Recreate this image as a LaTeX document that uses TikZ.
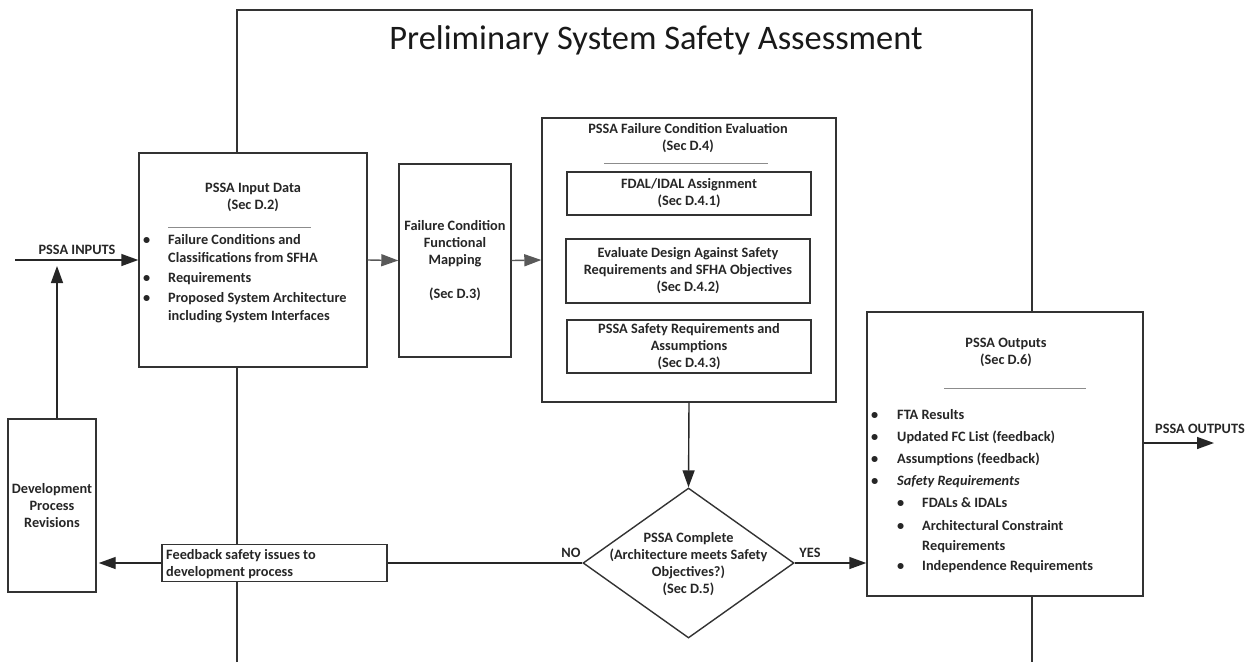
\documentclass[tikz,border=0pt]{standalone}
\usepackage{fontspec}
\setmainfont{Carlito}
\usetikzlibrary{shapes.geometric,arrows.meta}
\begin{document}
\begin{tikzpicture}[x=1pt,y=-1pt,
  txt/.style={font=\bfseries\fontsize{14.3}{17}\selectfont, text=black!85},
  box/.style={draw=black!80, line width=1.4pt, fill=white, inner sep=0pt},
  link/.style={line width=1.4pt, draw=black!85},
  conn/.style={link, -{Triangle[length=17pt,width=12pt]}},
  gconn/.style={conn, draw=black!65},
  sep/.style={draw=black!45, line width=1pt},
  frame/.style={draw=black!80, line width=1.4pt}]
\useasboundingbox (0,0) rectangle (1258,662);

% outer assessment frame, open at the bottom
\draw[frame] (237,662) -- (237,10) -- (1032,10) -- (1032,662);
\node[font=\fontsize{34.4}{40}\selectfont, text=black!90] (title) at (656,40) {Preliminary System Safety Assessment};

% PSSA input data
\node[box, minimum width=228pt, minimum height=214pt] (input) at (253,260) {};
\node[txt, align=center] (inputtitle) at (253,197) {PSSA Input Data\\(Sec D.2)};
\draw[sep] (168,227) -- (311,227);
\node[txt, anchor=west, inner sep=0pt] (inputlist) at (143,279) {%
  \fontsize{14.3}{18}\selectfont
  \begin{tabular}{@{}p{25pt}@{}l@{}}
  \textbullet & Failure Conditions and\\
   & Classifications from SFHA\\[2pt]
  \textbullet & Requirements\\[2pt]
  \textbullet & Proposed System Architecture\\
   & including System Interfaces
  \end{tabular}};

% functional mapping
\node[box, txt, align=center, minimum width=112pt, minimum height=193pt] (fcfm) at (455,260.5)
  {Failure Condition\\Functional\\Mapping\\[17pt](Sec D.3)};

% failure condition evaluation
\node[box, minimum width=294pt, minimum height=284pt] (eval) at (689,260) {};
\node[txt, align=center] (evaltitle) at (688,138.5) {PSSA Failure Condition Evaluation\\(Sec D.4)};
\draw[sep] (604,163) -- (768,163);
\node[box, txt, align=center, minimum width=244pt, minimum height=43pt] (fdal) at (689,193.5)
  {FDAL/IDAL Assignment\\(Sec D.4.1)};
\node[box, txt, align=center, minimum width=244pt, minimum height=64pt] (design) at (688,271)
  {Evaluate Design Against Safety\\Requirements and SFHA Objectives\\(Sec D.4.2)};
\node[box, txt, align=center, minimum width=244pt, minimum height=53pt] (safereq) at (689,346.5)
  {PSSA Safety Requirements and\\Assumptions\\(Sec D.4.3)};

% decision
\node[draw=black!80, line width=1.4pt, fill=white, diamond, inner sep=0pt,
  minimum width=211pt, minimum height=150pt] (dia) at (688.5,563) {};
\node[txt, align=center] (diatext) at (688.5,564)
  {PSSA Complete\\(Architecture meets Safety\\Objectives?)\\(Sec D.5)};

% outputs
\node[box, minimum width=276pt, minimum height=284pt] (outputs) at (1005,454) {};
\node[txt, align=center] (outtitle) at (1006,352.5) {\fontsize{14.3}{19}\selectfont PSSA Outputs\\(Sec D.6)};
\draw[sep] (944,388) -- (1086,388);
\node[txt, anchor=west, inner sep=0pt] (outlist) at (871,491) {%
  \fontsize{14.3}{20}\selectfont
  \begin{tabular}{@{}p{26pt}@{}p{25pt}@{}l@{}}
  \textbullet & \multicolumn{2}{@{}l@{}}{FTA Results}\\[2pt]
  \textbullet & \multicolumn{2}{@{}l@{}}{Updated FC List (feedback)}\\[2pt]
  \textbullet & \multicolumn{2}{@{}l@{}}{Assumptions (feedback)}\\[2pt]
  \textit{\textbullet} & \multicolumn{2}{@{}l@{}}{\textit{Safety Requirements}}\\[2pt]
   & \textbullet & FDALs \& IDALs\\[3pt]
   & \textbullet & Architectural Constraint\\
   & & Requirements\\
   & \textbullet & Independence Requirements
  \end{tabular}};

% development process side
\node[box, txt, align=center, minimum width=88pt, minimum height=173pt] (dev) at (52,505.5)
  {Development\\Process\\Revisions};
\node[box, minimum width=225pt, minimum height=37pt] (feedback) at (274.5,563) {};
\node[txt, anchor=west, align=left, inner sep=0pt] (feedtext) at (166,564.5)
  {Feedback safety issues to\\development process};

% connectors
\coordinate (inStart) at (15,260);
\coordinate (upTip) at (57,266);
\coordinate (outEnd) at (1214,443);
\draw[conn] (inStart) -- (input.west);
\node[txt] (inlabel) at (77,250) {PSSA INPUTS};
\draw[conn] (dev.north -| upTip) -- (upTip);
\draw[gconn] (input.east) -- (fcfm.west);
\draw[gconn] (fcfm.east) -- (eval.west);
\draw[conn] (eval.south) -- (dia.north);
\draw[link] (dia.west) -- (feedback.east);
\node[txt] (nolabel) at (571,553) {NO};
\draw[conn, shorten >=2pt] (feedback.west) -- (dev.east |- feedback.west);
\draw[conn] (dia.east) -- (outputs.west |- dia.east);
\node[txt] (yeslabel) at (810,553) {YES};
\draw[conn] (outputs.east |- outEnd) -- (outEnd);
\node[txt] (outlabel) at (1200,429) {PSSA OUTPUTS};
\end{tikzpicture}
\end{document}
